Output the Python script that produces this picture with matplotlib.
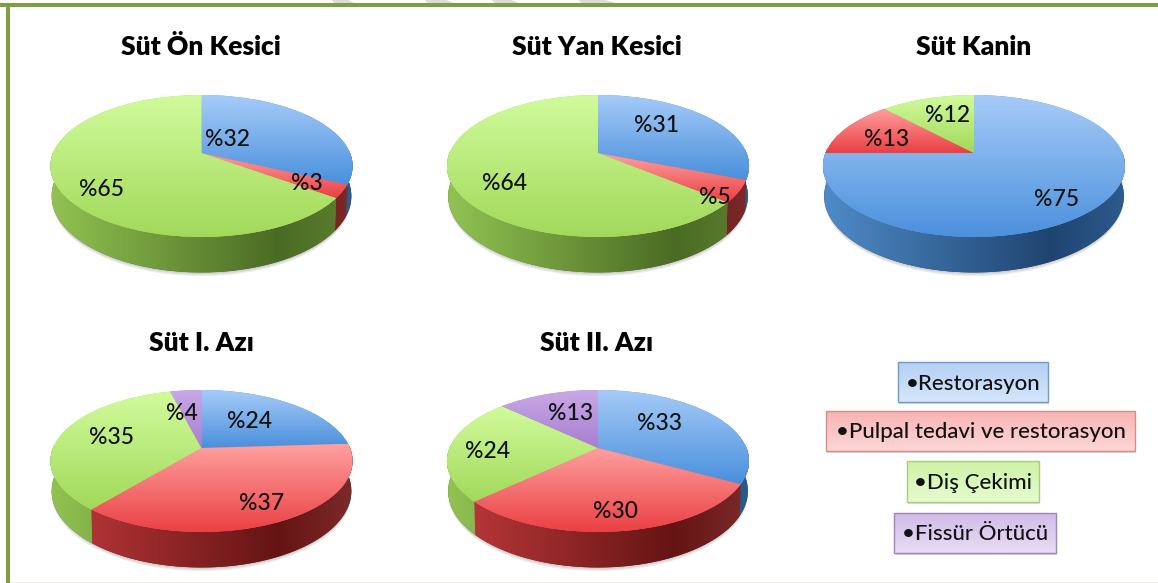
import numpy as np
import matplotlib
matplotlib.use("Agg")
import matplotlib.pyplot as plt
from matplotlib.patches import Polygon, Rectangle
from matplotlib.transforms import Transform
from matplotlib.colors import LinearSegmentedColormap

plt.rcParams["font.family"] = ["Lato", "DejaVu Sans"]

# values, clockwise from 12 o'clock
titles = ["Süt Ön Kesici", "Süt Yan Kesici", "Süt Kanin", "Süt I. Azı", "Süt II. Azı"]
sut_on = [32, 3, 65]
sut_yan = [31, 5, 64]
sut_kanin = [75, 13, 12]
sut_1_azi = [24, 37, 35, 4]
sut_2_azi = [33, 30, 24, 13]
on_cats = ["blue", "red", "green"]
kanin_cats = ["blue", "red", "green"]
azi_cats = ["blue", "red", "green", "purple"]
legend_labels = ["•Restorasyon", "•Pulpal tedavi ve restorasyon", "•Diş Çekimi", "•Fissür Örtücü"]

# layout in pixels
W, H = 1158, 583
centers = [(201.5, 153), (598, 153), (974, 153), (201.5, 448), (598, 448)]
title_pos = [(201, 47), (597, 47), (974, 47), (201, 343), (597, 343)]
label_pos = [
    [(228, 139), (307, 183), (102, 190)],
    [(657, 125), (715, 197), (505, 183)],
    [(1057, 199), (887, 139), (948, 116)],
    [(250, 422), (262, 504), (111, 438), (182, 413)],
    [(659, 424), (615, 512), (488, 452), (571, 413)],
]
legend_boxes = [(898, 362, 1048, 402), (826, 411, 1135, 451), (907, 461, 1039, 502), (894, 513, 1056, 553)]
legend_cols = ["blue", "red", "green", "purple"]
watermark_x = [(332, 355), (425, 455), (492, 520), (578, 617)]

RX, RY, K, DEPTH = 148.5, 68.6, 0.183, 29.0

# top colour, bottom colour, wall left, wall dark, wall right
palette = {
    "blue": ("#a6cbf8", "#4a90dc", "#4f8cc8", "#1f4470", "#2c5c8e"),
    "red": ("#ffa0a0", "#ea3f42", "#c03a3c", "#651414", "#7d2a2a"),
    "green": ("#d0fb9c", "#a2d95a", "#92c452", "#4a6b24", "#5c8030"),
    "purple": ("#c9a8e6", "#a77fd0", "#9570b8", "#54386f", "#674a85"),
}
legend_fill = {
    "blue": ("#b4d0f5", "#d5e6fb", "#6f9bc8"),
    "red": ("#f8b4b4", "#fcd6d6", "#d98a8a"),
    "green": ("#cdf3a6", "#e6fbd0", "#a8cc80"),
    "purple": ("#d2bce8", "#e8dcf4", "#9c86b8"),
}


class Perspective(Transform):
    # unit circle tilted away from the viewer, out in pixel coordinates
    input_dims = output_dims = 2

    def __init__(self, cx, cy):
        super().__init__()
        self.cx, self.cy = cx, cy

    def transform_non_affine(self, values):
        values = np.asarray(values, dtype=float)
        s = 1 / (1 + K * values[:, 1])
        return np.column_stack((self.cx + RX * values[:, 0] * s, self.cy - RY * values[:, 1] * s))


def rim(cx, cy, theta, drop=0.0):
    # theta clockwise from the top; drop pushes the rim down for the wall
    xs, ys = np.sin(theta), np.cos(theta)
    s = 1 / (1 + K * ys)
    return cx + RX * xs * s * (1 - 0.008 * drop / DEPTH), cy - RY * ys * s + drop * s


def reset_view(ax):
    ax.set_aspect("auto")
    ax.set_xlim(0, W)
    ax.set_ylim(H, 0)


def draw_pie(ax, values, cats, center):
    cx, cy = center
    persp = Perspective(cx, cy)

    # soft shadow below the wall
    full = np.linspace(0, 2 * np.pi, 200)
    for extra in (1, 2, 3):
        px, py = rim(cx, cy, full, DEPTH + extra)
        ax.add_patch(Polygon(np.column_stack((px, py)), fc="#555555", ec="none", alpha=0.1, zorder=1))

    cols = [palette[c][1] for c in cats]
    wedges, _ = ax.pie(values, colors=cols, startangle=90, counterclock=False, radius=1,
                       wedgeprops=dict(linewidth=0))
    reset_view(ax)

    edges = np.cumsum([0] + list(values)) / sum(values) * 2 * np.pi
    for i, cat in enumerate(cats):
        # side wall, shaded left to right across the whole pie
        th = np.linspace(edges[i], edges[i + 1], 120)
        th = th[np.cos(th) < 0.05]
        if len(th) < 2:
            continue
        xa, ya = rim(cx, cy, th)
        xb, yb = rim(cx, cy, th, DEPTH)
        outline = np.column_stack((np.r_[xa, xb[::-1]], np.r_[ya, yb[::-1]]))
        shape = Polygon(outline, fc=palette[cat][3], ec="none", zorder=2)
        ax.add_patch(shape)
        wall = LinearSegmentedColormap.from_list(
            "w", [(0, palette[cat][2]), (0.75, palette[cat][3]), (1, palette[cat][4])])
        im = ax.imshow(np.linspace(0, 1, 256)[None, :], cmap=wall,
                       extent=(cx - RX - 5, cx + RX + 5, cy + 130, cy - 80),
                       aspect="auto", zorder=2.5, interpolation="bilinear")
        im.set_clip_path(shape)

    for wedge, cat in zip(wedges, cats):
        # top face, shaded top to bottom within each slice
        wedge.set_transform(persp + ax.transData)
        wedge.set_zorder(3)
        verts = persp.transform(wedge.get_path().vertices)
        x0, x1 = verts[:, 0].min(), verts[:, 0].max()
        y0, y1 = verts[:, 1].min(), verts[:, 1].max()
        cmap = LinearSegmentedColormap.from_list("t", [palette[cat][0], palette[cat][1]])
        im = ax.imshow(np.linspace(0, 1, 128)[:, None], cmap=cmap, extent=(x0, x1, y1, y0),
                       aspect="auto", zorder=4, interpolation="bilinear")
        im.set_clip_path(wedge)
    reset_view(ax)


fig = plt.figure(figsize=(W / 100, H / 100), dpi=100, facecolor="white")
ax = fig.add_axes([0, 0, 1, 1])

all_values = [sut_on, sut_yan, sut_kanin, sut_1_azi, sut_2_azi]
all_cats = [on_cats, on_cats, kanin_cats, azi_cats, azi_cats]

for title, vals, cats, center, tpos, lpos in zip(titles, all_values, all_cats, centers, title_pos, label_pos):
    draw_pie(ax, vals, cats, center)
    ax.text(tpos[0], tpos[1], title, fontsize=19, fontweight="heavy", ha="center", va="center", color="black", zorder=6)
    for v, p in zip(vals, lpos):
        ax.text(p[0], p[1], f"%{v}", fontsize=16.5, fontweight="medium", ha="center", va="center", color="#111111", zorder=6)

for label, box, cat in zip(legend_labels, legend_boxes, legend_cols):
    x0, y0, x1, y1 = box
    top, bottom, edge = legend_fill[cat]
    ax.add_patch(Rectangle((x0 + 1, y0 + 2), x1 - x0, y1 - y0, fc="#999999", ec="none", alpha=0.35, zorder=2))
    cmap = LinearSegmentedColormap.from_list("l", [top, bottom])
    ax.imshow(np.linspace(0, 1, 64)[:, None], cmap=cmap, extent=(x0, x1, y1, y0), aspect="auto", zorder=3)
    ax.add_patch(Rectangle((x0, y0), x1 - x0, y1 - y0, fc="none", ec=edge, lw=1, zorder=4))
    ax.text((x0 + x1) / 2, (y0 + y1) / 2 + 1.5, label, fontsize=16, fontweight="medium", ha="center", va="center", color="#111111", zorder=6)

# page frame and the cut off watermark above it
for x0, x1 in watermark_x:
    ax.add_patch(Polygon([(x0, 0), (x0 + (x1 - x0) * 0.7, 0), (x1, 3.5), (x0 + (x1 - x0) * 0.1, 3.5)],
                         fc="#dcdcdc", ec="none", zorder=1))
ax.add_patch(Rectangle((0, 3.3), W, 4, fc="#7f9d41", ec="none", zorder=7))
ax.add_patch(Rectangle((6, 3.3), 4, H, fc="#7f9d41", ec="none", zorder=7))
ax.add_patch(Rectangle((10, 581.5), W, 1.5, fc="#eeeee6", ec="none", zorder=7))
reset_view(ax)
ax.axis("off")

fig.savefig("out.png", dpi=100)
